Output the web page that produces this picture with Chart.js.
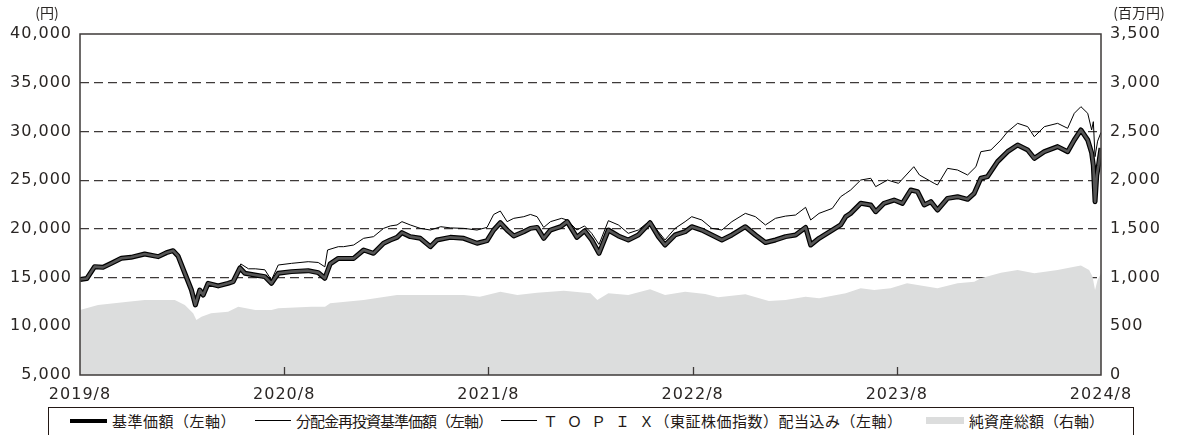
<!DOCTYPE html>
<html lang="ja">
<head>
<meta charset="utf-8">
<title>基準価額・純資産の推移</title>
<script src="https://cdn.jsdelivr.net/npm/chart.js@4.4.1/dist/chart.umd.min.js"></script>
<style>
  body { margin: 0; background: #fff; font-family: "Noto Sans CJK JP", "Noto Sans", sans-serif; color: #231815; }
  #wrap { position: relative; width: 1181px; height: 435px; overflow: hidden; }
  #chart { position: absolute; left: 0; top: 0; }
  #legend { position: absolute; left: 48px; top: 407px; width: 1086px; height: 40px; border: 1px solid #231815; box-sizing: border-box; }
  .item { position: absolute; top: 4px; font-size: 15px; line-height: 18px; white-space: nowrap; letter-spacing: 0.5px; }
  .swatch { position: absolute; }
</style>
</head>
<body>
<div id="wrap">
  <canvas id="chart" width="1181" height="405"></canvas>
  <div id="legend">
    <span class="swatch" style="left:21px;top:11px;width:37px;height:4px;background:#000;"></span>
    <span class="item" style="left:63px;">基準価額（左軸）</span>
    <span class="swatch" style="left:206px;top:12px;width:36px;height:1.3px;background:#000;"></span>
    <span class="item" style="left:247px;letter-spacing:-1px;">分配金再投資基準価額（左軸）</span>
    <span class="swatch" style="left:452px;top:12px;width:36px;height:1.3px;background:#000;"></span>
    <span class="item" style="left:494px;"><span style="letter-spacing:9px;">ＴＯＰＩ</span>Ｘ（東証株価指数）配当込み（左軸）</span>
    <span class="swatch" style="left:877px;top:9px;width:38px;height:7px;background:#dcdddd;"></span>
    <span class="item" style="left:920px;letter-spacing:0;">純資産総額（右軸）</span>
  </div>
</div>
<script>
const xTickLabels = ['2019/8', '2020/8', '2021/8', '2022/8', '2023/8', '2024/8'];

// months since 2019/8 and values
const navMonths = [0, 0.4, 0.86, 1.35, 1.84, 2.43, 3.0, 3.8, 4.6, 5.08, 5.47, 5.76, 6.16, 6.55, 6.78, 7.04, 7.24, 7.53, 8.12, 8.7, 9.0, 9.4, 9.69, 10.27, 10.86, 11.25, 11.65, 12.43, 13.41, 14.0, 14.39, 14.7, 15.18, 15.49, 16.08, 16.67, 17.25, 17.84, 18.24, 18.63, 18.92, 19.41, 20.0, 20.59, 20.98, 21.76, 22.55, 23.33, 23.92, 24.31, 24.7, 25.1, 25.49, 26.08, 26.47, 26.86, 27.25, 27.65, 28.24, 28.63, 29.2, 29.65, 30.07, 30.5, 31.05, 31.64, 32.22, 32.81, 33.5, 33.99, 34.38, 34.97, 35.56, 35.95, 36.54, 37.13, 37.72, 38.31, 39.1, 39.69, 40.28, 40.87, 41.46, 42.05, 42.64, 42.94, 43.43, 44.21, 44.7, 45.0, 45.29, 45.88, 46.47, 46.76, 47.25, 47.84, 48.33, 48.82, 49.22, 49.61, 50.0, 50.39, 50.98, 51.57, 52.16, 52.55, 52.94, 53.33, 53.92, 54.51, 55.1, 55.69, 56.08, 56.67, 57.45, 58.04, 58.43, 58.82, 59.22, 59.45, 59.55, 59.65, 59.75, 59.85, 60];
const navValues = [14800, 14900, 16120, 16050, 16460, 16980, 17080, 17420, 17150, 17560, 17760, 17220, 15440, 13720, 12190, 13720, 13210, 14410, 14140, 14410, 14580, 16000, 15440, 15270, 15100, 14410, 15440, 15610, 15710, 15510, 14930, 16400, 16970, 16970, 16970, 17830, 17490, 18520, 18860, 19130, 19610, 19200, 19030, 18170, 18860, 19130, 19030, 18520, 18790, 19880, 20630, 19880, 19270, 19710, 20050, 20150, 19030, 19880, 20220, 20740, 19130, 19800, 18860, 17490, 19880, 19270, 18860, 19370, 20630, 19200, 18340, 19370, 19710, 20220, 19880, 19370, 18860, 19370, 20220, 19370, 18600, 18860, 19200, 19370, 20150, 18340, 19030, 19880, 20400, 21250, 21590, 22620, 22450, 21760, 22620, 22960, 22620, 23990, 23820, 22450, 22790, 21930, 23130, 23300, 23030, 23650, 25190, 25360, 26900, 27920, 28610, 28100, 27240, 27920, 28440, 27920, 29120, 30150, 29120, 27800, 26500, 22790, 25500, 26500, 28300];

const topixMonths = [0, 0.4, 0.86, 1.35, 1.84, 2.43, 3.0, 3.8, 4.6, 5.08, 5.47, 5.76, 6.16, 6.55, 6.78, 7.04, 7.24, 7.53, 8.12, 8.7, 9.0, 9.45, 9.9, 10.3, 10.86, 11.25, 11.65, 12.43, 13.41, 14.0, 14.39, 14.55, 15.18, 15.49, 16.08, 16.67, 17.25, 17.84, 18.24, 18.63, 18.92, 19.41, 20.0, 20.59, 21.2, 21.76, 22.55, 23.33, 23.92, 24.31, 24.7, 25.1, 25.49, 26.08, 26.47, 26.86, 27.25, 27.65, 28.3, 28.63, 29.2, 29.65, 30.07, 30.5, 31.05, 31.64, 32.22, 32.81, 33.5, 33.99, 34.38, 34.97, 35.56, 35.95, 36.54, 37.13, 37.72, 38.31, 39.1, 39.69, 40.28, 40.87, 41.46, 42.05, 42.64, 42.94, 43.43, 44.21, 44.7, 45.0, 45.29, 45.88, 46.47, 46.76, 47.45, 48.1, 49.0, 49.33, 50.2, 50.39, 50.98, 51.57, 52.16, 52.65, 52.94, 53.53, 54.12, 54.51, 55.1, 55.69, 56.08, 56.67, 57.45, 58.04, 58.43, 58.82, 59.22, 59.45, 59.55, 59.65, 59.8, 60];
const topixValues = [14800, 14900, 16120, 16050, 16460, 16980, 17080, 17420, 17150, 17560, 17760, 17220, 15440, 13720, 12190, 13720, 13210, 14410, 14140, 14410, 14580, 16400, 15900, 15900, 15800, 14750, 16290, 16460, 16630, 16550, 16100, 17830, 18170, 18170, 18340, 19030, 19200, 20050, 20300, 20400, 20740, 20400, 20050, 19880, 20220, 20100, 20050, 19880, 20150, 21480, 21830, 20740, 21080, 21250, 21480, 21250, 20150, 20740, 21080, 20910, 19880, 20300, 19540, 18400, 20840, 20400, 19540, 19880, 20840, 19710, 18860, 20050, 20740, 21250, 20910, 20050, 19880, 20740, 21590, 21250, 20400, 21080, 21310, 21420, 22210, 20910, 21590, 22100, 23300, 23650, 23990, 25010, 25190, 24330, 25010, 24670, 26380, 25530, 24670, 24500, 26210, 26040, 25530, 26380, 27920, 28100, 29120, 29970, 30830, 30490, 29460, 30490, 30830, 30320, 31860, 32540, 31860, 30150, 31000, 27410, 29000, 29900];

const assetMonths = [0, 1.06, 2.82, 3.8, 5.57, 6.16, 6.65, 6.84, 7.14, 7.7, 8.7, 9.3, 10.3, 11.25, 11.65, 13.6, 14.4, 14.7, 16.67, 18.63, 20.59, 22.55, 23.5, 24.7, 25.7, 26.86, 28.43, 30.0, 30.4, 31.05, 32.22, 33.5, 34.38, 35.56, 36.74, 37.5, 39.1, 40.48, 41.46, 42.64, 43.43, 45.0, 45.88, 46.67, 47.64, 48.6, 50.39, 51.57, 52.55, 52.94, 54.12, 55.1, 56.08, 57.45, 58.43, 58.82, 59.3, 59.5, 59.65, 59.8, 60];
const assetValues = [667, 718, 752, 770, 770, 718, 633, 565, 599, 633, 650, 701, 667, 667, 684, 701, 701, 736, 770, 821, 821, 821, 804, 855, 821, 845, 866, 838, 770, 838, 821, 879, 821, 855, 832, 797, 828, 760, 770, 804, 787, 838, 890, 872, 890, 941, 890, 941, 958, 992, 1050, 1078, 1044, 1078, 1112, 1124, 1078, 1010, 872, 975, 1044];

function pts(xs, ys) {
  return xs.map((x, i) => ({ x, y: ys[i] }));
}

const TEXT = '#2a2624';
const LINE = '#3e3a39';

const framePlugin = {
  id: 'frame',
  beforeLayout(chart) { chart.ctx.letterSpacing = '1px'; },
  beforeDraw(chart) { chart.ctx.letterSpacing = '1px'; },
  afterDatasetsDraw(chart) {
    const { ctx, chartArea: a, scales } = chart;
    ctx.save();
    ctx.strokeStyle = LINE;
    ctx.lineWidth = 1.5;
    ctx.strokeRect(a.left, a.top, a.right - a.left, a.bottom - a.top);
    // small inward ticks on the bottom axis
    ctx.lineWidth = 1.3;
    for (let m = 12; m < 60; m += 12) {
      const x = Math.round(scales.x.getPixelForValue(m)) + 0.5;
      ctx.beginPath();
      ctx.moveTo(x, a.bottom);
      ctx.lineTo(x, a.bottom - 8);
      ctx.stroke();
    }
    ctx.restore();
  },
  afterDraw(chart) {
    const { ctx, chartArea: a } = chart;
    ctx.save();
    ctx.letterSpacing = '0px';
    ctx.fillStyle = TEXT;
    ctx.font = '14px "Noto Sans CJK JP"';
    ctx.textBaseline = 'middle';
    ctx.textAlign = 'center';
    ctx.fillText('(円)', 47, 13);
    ctx.fillText('(百万円)', a.right + 38, 13);
    ctx.restore();
  },
};

const tickFont = { family: '"DejaVu Sans"', size: 16 };

new Chart(document.getElementById('chart'), {
  type: 'line',
  data: {
    datasets: [
      {
        label: '分配金再投資基準価額（左軸）',
        data: pts(navMonths, navValues),
        borderColor: '#555555',
        borderWidth: 2.6,
        yAxisID: 'y',
        order: 0,
      },
      {
        label: '基準価額（左軸）',
        data: pts(navMonths, navValues),
        borderColor: '#000',
        borderWidth: 5,
        yAxisID: 'y',
        order: 1,
      },
      {
        label: 'TOPIX（東証株価指数）配当込み（左軸）',
        data: pts(topixMonths, topixValues),
        borderColor: '#000',
        borderWidth: 1,
        yAxisID: 'y',
        order: 2,
      },
      {
        label: '純資産総額（右軸）',
        data: pts(assetMonths, assetValues),
        borderWidth: 0,
        backgroundColor: '#dcdddd',
        fill: 'origin',
        yAxisID: 'y2',
        order: 3,
      },
    ],
  },
  options: {
    responsive: false,
    animation: false,
    devicePixelRatio: 1,
    layout: { padding: { top: 34, left: 0, right: 0, bottom: 0 } },
    elements: { point: { radius: 0 }, line: { tension: 0, borderJoinStyle: 'round' } },
    plugins: { legend: { display: false }, tooltip: { enabled: false } },
    scales: {
      x: {
        type: 'linear',
        min: 0,
        max: 60,
        grid: { display: false },
        border: { display: false },
        afterFit(s) { s.height = 30; },
        ticks: {
          stepSize: 12,
          autoSkip: false,
          maxRotation: 0,
          padding: 2,
          color: TEXT,
          font: tickFont,
          callback: (v) => xTickLabels[v / 12],
        },
      },
      y: {
        position: 'left',
        min: 5000,
        max: 40000,
        afterFit(s) { s.width = 80; },
        grid: {
          drawTicks: false,
          lineWidth: 1.2,
          color: (c) => (c.tick.value === 5000 || c.tick.value === 40000) ? 'rgba(0,0,0,0)' : LINE,
        },
        border: { display: false, dash: [9, 5] },
        ticks: {
          stepSize: 5000,
          padding: 8,
          color: TEXT,
          font: tickFont,
          callback: (v) => v.toLocaleString('en-US'),
        },
      },
      y2: {
        position: 'right',
        min: 0,
        max: 3500,
        afterFit(s) { s.width = 80; },
        grid: { display: false, drawTicks: false },
        border: { display: false },
        ticks: {
          stepSize: 500,
          padding: 9,
          color: TEXT,
          font: tickFont,
          callback: (v) => v.toLocaleString('en-US'),
        },
      },
    },
  },
  plugins: [framePlugin],
});
</script>
</body>
</html>
